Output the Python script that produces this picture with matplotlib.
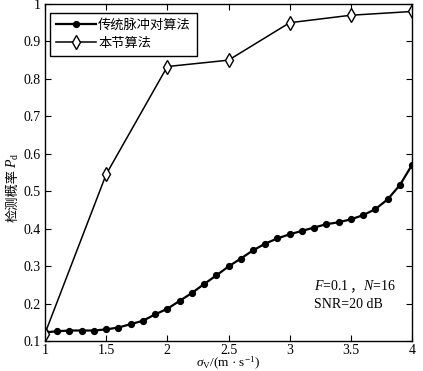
import matplotlib
matplotlib.use("Agg")
import matplotlib.pyplot as plt

plt.rcParams['font.family'] = ['Liberation Serif', 'Noto Sans CJK SC']
plt.rcParams['mathtext.fontset'] = 'custom'
plt.rcParams['mathtext.rm'] = 'Liberation Serif'
plt.rcParams['mathtext.it'] = 'Liberation Serif:italic'

x_trad = [1.0, 1.1, 1.2, 1.3, 1.4, 1.5, 1.6, 1.7, 1.8, 1.9, 2.0, 2.1, 2.2, 2.3, 2.4, 2.5,
          2.6, 2.7, 2.8, 2.9, 3.0, 3.1, 3.2, 3.3, 3.4, 3.5, 3.6, 3.7, 3.8, 3.9, 4.0]
y_trad = [0.123, 0.126, 0.128, 0.128, 0.128, 0.131, 0.136, 0.145, 0.154, 0.171, 0.186,
          0.207, 0.228, 0.252, 0.275, 0.299, 0.320, 0.342, 0.360, 0.374, 0.385, 0.394,
          0.403, 0.412, 0.417, 0.425, 0.436, 0.452, 0.478, 0.516, 0.570]
x_new = [1.0, 1.5, 2.0, 2.5, 3.0, 3.5, 4.0]
y_new = [0.12, 0.545, 0.833, 0.85, 0.95, 0.97, 0.98]

labels = ['传统脉冲对算法', '本节算法']
xticks = [1, 1.5, 2, 2.5, 3, 3.5, 4]
xticklabels = ['1', '1.5', '2', '2.5', '3', '3.5', '4']
yticks = [0.1, 0.2, 0.3, 0.4, 0.5, 0.6, 0.7, 0.8, 0.9, 1.0]
yticklabels = ['0.1', '0.2', '0.3', '0.4', '0.5', '0.6', '0.7', '0.8', '0.9', '1']

W, H = 423, 371
fig = plt.figure(figsize=(W / 100, H / 100), dpi=100)
ax = fig.add_axes([45 / W, 30 / H, 367 / W, 337 / H])

ax.plot(x_trad, y_trad, color='black', lw=1.6, marker='o', markersize=4.2,
        markerfacecolor='black', label=labels[0])
ax.plot(x_new, y_new, color='black', lw=1.1, marker='d', markersize=7,
        markerfacecolor='white', markeredgewidth=1.0, label=labels[1])

ax.set_xlim(1, 4)
ax.set_ylim(0.1, 1.0)
ax.set_xticks(xticks)
ax.set_xticklabels(xticklabels)
ax.set_yticks(yticks)
ax.set_yticklabels(yticklabels)
ax.tick_params(direction='in', top=True, right=True, labelsize=10, length=4, width=0.8)
ax.tick_params(axis='x', pad=2)
ax.tick_params(axis='y', pad=3)
for s in ax.spines.values():
    s.set_linewidth(1.0)

ax.set_xlabel(r'$\sigma_{\mathrm{V}}$/(m · s$^{-1}$)', fontsize=9.5, labelpad=-1)

leg = ax.legend(loc='upper left', bbox_to_anchor=(5 / 367, 1 - 9 / 337), borderaxespad=0,
                fontsize=9.5, frameon=True, fancybox=False, framealpha=1,
                edgecolor='black', borderpad=0.45, handlelength=3.0,
                handletextpad=0.2, labelspacing=0.45)
leg.get_frame().set_linewidth(1.0)

# y label: CJK part + italic P with subscript d, stacked vertically
fig.canvas.draw()
r = fig.canvas.get_renderer()
x0 = 17 / W
y0 = 1 - 222 / H
t_cjk = fig.text(x0, y0, '检测概率', rotation=90, rotation_mode='anchor',
                 ha='left', va='baseline', fontsize=9.5)
fig.canvas.draw()
ext = t_cjk.get_window_extent(r)
t_p = fig.text(x0, (ext.y1 + 1) / H, r'$P_{\mathrm{d}}$', rotation=90,
               rotation_mode='anchor', ha='left', va='baseline', fontsize=10)

# annotation: F=0.1，N=16 / SNR=20 dB
xa, ya = 3.2, 0.235
t1 = ax.text(xa, ya, r'$F$=0.1', fontsize=10, va='baseline', ha='left')
fig.canvas.draw()
e1 = t1.get_window_extent(r)
inv = ax.transData.inverted()
xb = inv.transform((e1.x1, 0))[0]
t2 = ax.text(xb, ya, '，', fontsize=10, va='baseline', ha='left',
             family=['Noto Sans CJK SC'])
fig.canvas.draw()
e2 = t2.get_window_extent(r)
xc = inv.transform((e2.x1, 0))[0]
ax.text(xc, ya, r'$N$=16', fontsize=10, va='baseline', ha='left')
ax.text(xa, 0.187, 'SNR=20 dB', fontsize=10, va='baseline', ha='left')

fig.savefig('out.png', dpi=100)
